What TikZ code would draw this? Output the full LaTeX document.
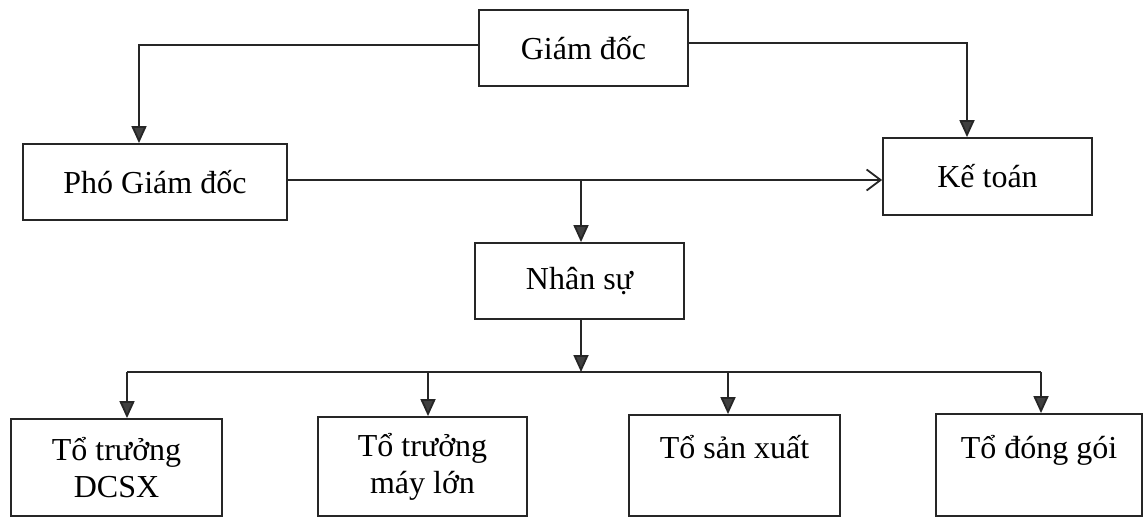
\documentclass[tikz,border=0pt]{standalone}
\usepackage{fontspec}
\setmainfont{Liberation Serif}
\usetikzlibrary{arrows.meta,calc}
\begin{document}
\begin{tikzpicture}[x=1pt,y=-1pt,
  box/.style={draw=black!85,line width=1.8pt,align=center,inner sep=0pt,
    font=\fontsize{32}{37}\selectfont},
  conn/.style={draw=black!85,line width=1.8pt},
  arr/.style={conn,-{Triangle[width=15pt,length=17pt,fill=black!75]}},
  oarr/.style={conn,-{Straight Barb[width=21pt,length=14pt]}}]
\useasboundingbox (0,0) rectangle (1143,517);
\clip (0,0) rectangle (1143,517);
% boxes
\node[box,minimum width=209pt,minimum height=76pt] (gd) at (583.5,48) {Giám đốc};
\node[box,minimum width=264pt,minimum height=76pt] (pgd) at (155,182) {Phó Giám đốc};
\node[box,minimum width=209pt,minimum height=77pt] (kt) at (987.5,176.5) {Kế toán};
\node[box,minimum width=209pt,minimum height=76pt] (ns) at (579.5,281) {Nhân sự};
\node[box,minimum width=211pt,minimum height=97pt] (b1) at (116.5,467.5) {Tổ trưởng\\DCSX};
\node[box,minimum width=209pt,minimum height=99pt] (b2) at (422.5,466.5) {Tổ trưởng\\máy lớn};
\node[box,minimum width=211pt,minimum height=101pt] (b3) at (734.5,465.5) {Tổ sản xuất\\\phantom{X}};
\node[box,minimum width=206pt,minimum height=102pt] (b4) at (1039,465) {Tổ đóng gói\\\phantom{X}};
% top connectors
\draw[arr] ([yshift=3pt]gd.west) -| ([xshift=-16pt]pgd.north);
\draw[arr] ([yshift=5pt]gd.east) -| ([xshift=-20.5pt]kt.north);
\draw[oarr] ([yshift=2pt]pgd.east) -- ([yshift=2pt]pgd.east -| kt.west);
\coordinate (j) at (581,180);
\draw[arr] (j) -- (j |- ns.north);
% bus
\coordinate (bus) at (581,372);
\coordinate (t1) at (127,372);
\coordinate (t2) at (428,372);
\coordinate (t3) at (728,372);
\coordinate (t4) at (1041,372);
\draw[arr] (bus |- ns.south) -- (bus);
\draw[conn] (t1) -- (t4);
\draw[arr] (t1) -- (t1 |- b1.north);
\draw[arr] (t2) -- (t2 |- b2.north);
\draw[arr] (t3) -- (t3 |- b3.north);
\draw[arr] (t4) -- (t4 |- b4.north);
\end{tikzpicture}
\end{document}
